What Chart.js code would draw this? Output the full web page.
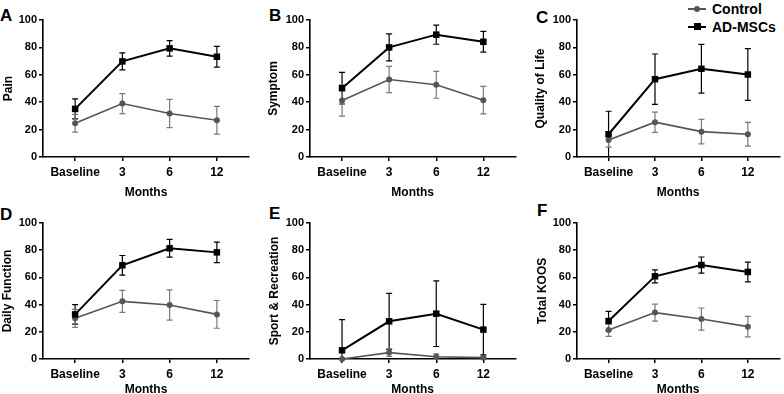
<!DOCTYPE html>
<html>
<head>
<meta charset="utf-8">
<script src="https://cdn.jsdelivr.net/npm/chart.js@4.4.1/dist/chart.umd.min.js"></script>
<style>
  html, body { margin: 0; padding: 0; background: #fff; overflow: hidden; }
  body { width: 784px; height: 394px; position: relative; font-family: 'Liberation Sans', Arial, sans-serif; }
  canvas { position: absolute; }
  .letter { position: absolute; font-size: 17px; font-weight: bold; line-height: 1; color: #000; }
  .legend { position: absolute; left: 686px; top: 0; font-size: 14px; font-weight: bold; color: #000; }
  .legend div { position: relative; height: 18px; line-height: 18px; padding-left: 26px; }
  .legend .ln { position: absolute; left: 2px; top: 8px; width: 18px; height: 2px; }
  .legend .mk { position: absolute; left: 8px; }
</style>
</head>
<body>
<div class="letter" style="left:0px;top:7px">A</div>
<div class="letter" style="left:269px;top:7px">B</div>
<div class="letter" style="left:536px;top:9px">C</div>
<div class="letter" style="left:0px;top:206px">D</div>
<div class="letter" style="left:269px;top:205px">E</div>
<div class="letter" style="left:537px;top:202px">F</div>

<div class="legend">
  <div><span class="ln" style="background:#555"></span><span class="mk" style="top:6px;width:6px;height:6px;border-radius:50%;background:#555"></span>Control</div>
  <div><span class="ln" style="background:#000"></span><span class="mk" style="top:5px;width:7px;height:7px;background:#000"></span>AD-MSCs</div>
</div>

<canvas id="cA"></canvas>
<canvas id="cB"></canvas>
<canvas id="cC"></canvas>
<canvas id="cD"></canvas>
<canvas id="cE"></canvas>
<canvas id="cF"></canvas>

<script>
// ----- DATA -----

const months = ["Baseline", "3", "6", "12"];
const yTicks = [0, 20, 40, 60, 80, 100];

const painAD = [35.1, 69.8, 79.3, 73.2];
const painADSd = [7.3, 6.2, 5.6, 7.6];
const painCtl = [24.6, 39.0, 31.7, 26.8];
const painCtlSd = [6.5, 7.3, 10.3, 10.1];

const symptomAD = [50.2, 80.0, 89.3, 84.1];
const symptomADSd = [11.5, 9.8, 7.0, 7.6];
const symptomCtl = [41.2, 56.6, 52.7, 41.5];
const symptomCtlSd = [11.4, 9.6, 9.8, 10.0];

const qolAD = [16.6, 56.8, 64.4, 60.2];
const qolADSd = [16.8, 18.4, 17.8, 18.9];
const qolCtl = [12.4, 25.4, 18.5, 16.6];
const qolCtlSd = [5.2, 7.4, 8.9, 8.7];

const dailyAD = [32.8, 68.9, 81.4, 78.4];
const dailyADSd = [7.2, 7.2, 6.5, 7.6];
const dailyCtl = [29.9, 42.4, 39.7, 32.8];
const dailyCtlSd = [6.6, 8.1, 11.1, 10.2];

const sportAD = [6.4, 27.7, 33.3, 21.6];
const sportADSd = [22.5, 20.6, 24.1, 18.6];
const sportCtl = [0, 4.7, 1.7, 1.0];
const sportCtlSd = [0.5, 2.8, 2.0, 1.0];

const koosAD = [27.9, 60.8, 69.1, 64.0];
const koosADSd = [7.1, 4.8, 5.9, 7.3];
const koosCtl = [21.3, 34.1, 29.4, 23.8];
const koosCtlSd = [4.6, 6.3, 8.1, 7.6];

// ----- LAYOUT -----

const row1 = { top: 0, h: 202, xH: 45, xTitlePad: 2 };
const row2 = { top: 203, h: 194, xH: 38, xTitlePad: 0 };

const panels = [
  { id: "cA", title: "Pain", ad: painAD, adSd: painADSd, ctl: painCtl, ctlSd: painCtlSd,
    left: 0, w: 260, yW: 43, padR: 11, yTitlePad: 1, row: row1 },
  { id: "cB", title: "Symptom", ad: symptomAD, adSd: symptomADSd, ctl: symptomCtl, ctlSd: symptomCtlSd,
    left: 260, w: 260, yW: 50, padR: 4, yTitlePad: 6, row: row1 },
  { id: "cC", title: "Quality of Life", ad: qolAD, adSd: qolADSd, ctl: qolCtl, ctlSd: qolCtlSd,
    left: 520, w: 264, yW: 57, padR: 1, yTitlePad: 13, row: row1 },
  { id: "cD", title: "Daily Function", ad: dailyAD, adSd: dailyADSd, ctl: dailyCtl, ctlSd: dailyCtlSd,
    left: 0, w: 260, yW: 43, padR: 11, yTitlePad: 0, row: row2 },
  { id: "cE", title: "Sport & Recreation", ad: sportAD, adSd: sportADSd, ctl: sportCtl, ctlSd: sportCtlSd,
    left: 260, w: 260, yW: 50, padR: 4, yTitlePad: 7, row: row2 },
  { id: "cF", title: "Total KOOS", ad: koosAD, adSd: koosADSd, ctl: koosCtl, ctlSd: koosCtlSd,
    left: 520, w: 264, yW: 57, padR: 1, yTitlePad: 15, row: row2 },
];

Chart.defaults.font.family = "'Liberation Sans', Arial, sans-serif";
Chart.defaults.font.weight = "bold";
Chart.defaults.color = "#000";

// ----- ERROR BARS PLUGIN -----

const errorBars = {
  id: "errorBars",
  beforeDatasetsDraw(chart) {
    const { ctx, chartArea } = chart;
    const yScale = chart.scales.y;
    chart.data.datasets.forEach((ds, di) => {
      const meta = chart.getDatasetMeta(di);
      ctx.save();
      ctx.strokeStyle = ds.errColor;
      ctx.lineWidth = 1.2;
      meta.data.forEach((pt, i) => {
        const v = ds.data[i].y;
        const sd = ds.sd[i];
        let top = yScale.getPixelForValue(v + sd);
        let bot = yScale.getPixelForValue(v - sd);
        const capTop = top >= chartArea.top;
        const capBot = bot <= chartArea.bottom;
        top = Math.max(top, chartArea.top);
        bot = Math.min(bot, chartArea.bottom);
        ctx.beginPath();
        ctx.moveTo(pt.x, top);
        ctx.lineTo(pt.x, bot);
        if (capTop) {
          ctx.moveTo(pt.x - 3, top);
          ctx.lineTo(pt.x + 3, top);
        }
        if (capBot) {
          ctx.moveTo(pt.x - 3, bot);
          ctx.lineTo(pt.x + 3, bot);
        }
        ctx.stroke();
      });
      ctx.restore();
    });
  },
};

// ----- BUILD CHARTS -----

function toPoints(values) {
  return values.map((v, i) => ({ x: i, y: v }));
}

function makePanel(p) {
  const canvas = document.getElementById(p.id);
  canvas.width = p.w;
  canvas.height = p.row.h;
  canvas.style.left = p.left + "px";
  canvas.style.top = p.row.top + "px";

  new Chart(canvas.getContext("2d"), {
    type: "line",
    data: {
      datasets: [
        {
          label: "AD-MSCs",
          data: toPoints(p.ad),
          sd: p.adSd,
          errColor: "#000",
          borderColor: "#000",
          backgroundColor: "#000",
          borderWidth: 2,
          pointStyle: "rect",
          pointRadius: 4.6,
          pointBorderWidth: 0,
          clip: false,
          order: 0,
        },
        {
          label: "Control",
          data: toPoints(p.ctl),
          sd: p.ctlSd,
          errColor: "#7a7a7a",
          borderColor: "#555",
          backgroundColor: "#555",
          borderWidth: 1.6,
          pointStyle: "circle",
          pointRadius: 3,
          pointBorderWidth: 0,
          clip: false,
          order: 1,
        },
      ],
    },
    options: {
      responsive: false,
      animation: false,
      events: [],
      layout: { padding: { top: 20, right: p.padR, left: 0, bottom: 0 } },
      plugins: { legend: { display: false }, tooltip: { enabled: false } },
      scales: {
        x: {
          type: "linear",
          min: -0.68,
          max: 3.68,
          afterBuildTicks: (scale) => {
            scale.ticks = months.map((m, i) => ({ value: i }));
          },
          afterFit: (scale) => {
            scale.height = p.row.xH;
          },
          ticks: {
            font: { size: 12, weight: "bold" },
            padding: 4,
            callback: (value) => months[value],
          },
          grid: { drawOnChartArea: false, drawTicks: true, tickLength: 4, color: "#000", lineWidth: 1.5 },
          border: { display: true, color: "#000", width: 1.6 },
          title: {
            display: true,
            text: "Months",
            font: { size: 12, weight: "bold" },
            padding: { top: 0, bottom: p.row.xTitlePad },
          },
        },
        y: {
          min: 0,
          max: 100,
          afterBuildTicks: (scale) => {
            scale.ticks = yTicks.map((v) => ({ value: v }));
          },
          afterFit: (scale) => {
            scale.width = p.yW;
          },
          ticks: {
            font: { size: 11, weight: "bold" },
            padding: 2,
          },
          grid: { drawOnChartArea: false, drawTicks: true, tickLength: 4, color: "#000", lineWidth: 1.5 },
          border: { display: true, color: "#000", width: 1.6 },
          title: {
            display: true,
            text: p.title,
            font: { size: 12, weight: "bold" },
            padding: { top: p.yTitlePad, bottom: 0 },
          },
        },
      },
    },
    plugins: [errorBars],
  });
}

panels.forEach(makePanel);
</script>
</body>
</html>
